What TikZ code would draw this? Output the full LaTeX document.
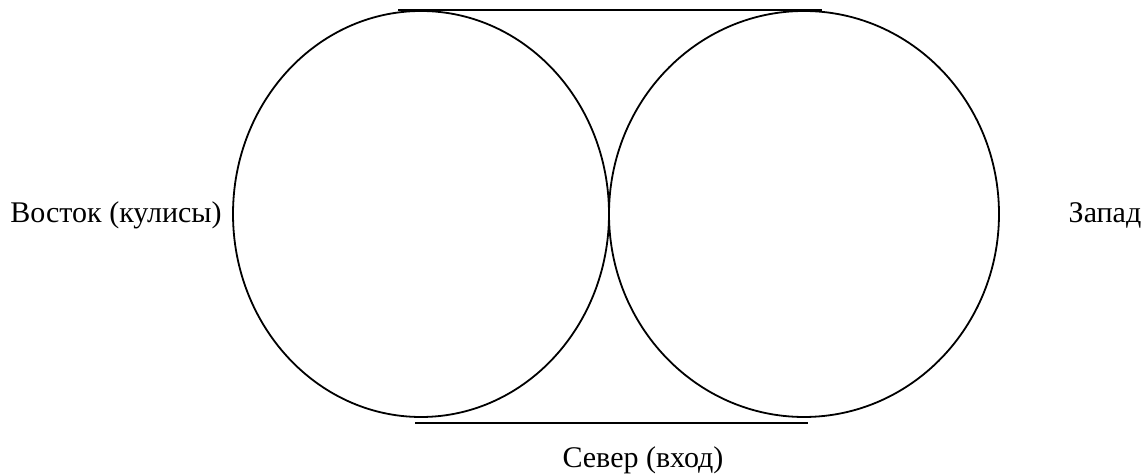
\documentclass[tikz,border=0pt]{standalone}
\usepackage{fontspec}
\setmainfont{Liberation Serif}
\usetikzlibrary{calc,shapes.geometric}

\begin{document}
\begin{tikzpicture}[x=0.5pt,y=-0.5pt,
          hall/.style={draw,ellipse,line width=0.9pt,inner sep=0pt},
          side/.style={font=\fontsize{15}{18}\selectfont,anchor=base,inner sep=0pt}
        ]
        \useasboundingbox (0,0) rectangle (1141,474);
        \node[hall,minimum width=188pt,minimum height=203pt] (east) at (421,214) {};
        \node[hall,minimum width=195pt,minimum height=203pt] (west) at (804,214) {};
        \coordinate (topL) at ($(east.north)+(-23,0)$);
        \coordinate (topR) at ($(west.north)+(18,0)$);
        \coordinate (botL) at (415,423);
        \coordinate (botR) at (808,423);
        \draw[line width=0.9pt] (topL) -- (topR);
        \draw[line width=0.9pt] (botL) -- (botR);
        \node[side] (eastlbl) at (116,223) {Восток (кулисы)};
        \node[side] (westlbl) at (1105,223) {Запад};
        \node[side] (northlbl) at (643,468) {Север (вход)};
      \end{tikzpicture}
\end{document}
